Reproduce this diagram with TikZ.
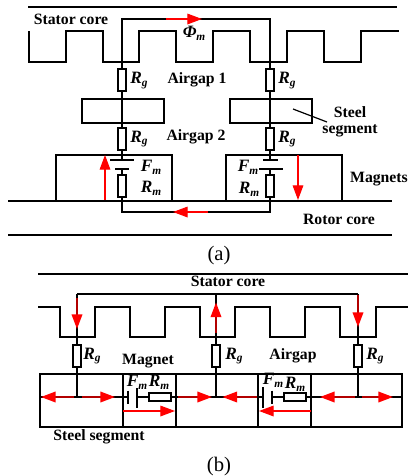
\documentclass[tikz,border=0pt]{standalone}
\usepackage{fontspec}
\setmainfont{Liberation Serif}
\usetikzlibrary{arrows.meta}
\newcommand{\symb}[2]{{\bfseries\itshape #1\raisebox{-2pt}{\fontsize{8.5}{9}\selectfont #2}}}
\tikzset{
 wire/.style={line width=1.15pt,black,line join=miter},
 res/.style={draw=black,line width=1.15pt,fill=white,minimum width=6pt,minimum height=16.5pt,inner sep=0pt,outer sep=0pt},
 resh/.style={draw=black,line width=1.15pt,fill=white,minimum width=16.5pt,minimum height=6pt,inner sep=0pt,outer sep=0pt},
 lab/.style={font=\fontsize{11.8}{13}\selectfont\bfseries,inner sep=0pt},
 sym/.style={font=\fontsize{13}{14}\selectfont,inner sep=0pt},
 captext/.style={font=\fontsize{15.5}{17}\selectfont,inner sep=0pt},
 flux/.style={red,line width=0.9pt,-{Triangle[length=11pt,width=8pt]}},
 fluxdark/.style={red!70!black,line width=1.15pt,-{Triangle[length=11pt,width=8pt,color=red]}},
}
\begin{document}
\begin{tikzpicture}[x=0.75pt,y=-0.75pt]
\useasboundingbox (0,0) rectangle (408,476);
% ---------- (a)
\draw[wire] (28,7) -- (397,7);
\draw[wire] (29,31) -- (29,62) -- (66,62) -- (66,31) -- (103,31) -- (103,62) -- (139,62) -- (139,31) -- (176,31) -- (176,62) -- (213,62) -- (213,31) -- (250,31) -- (250,62) -- (287,62) -- (287,31) -- (324,31) -- (324,62) -- (361,62) -- (361,31) -- (399,31);
\draw[wire] (8,201) -- (392,201);
\draw[wire] (8,235) -- (392,235);
% steel segments, magnets
\draw[wire] (82,99) rectangle (164,123);
\draw[wire] (230,99) rectangle (312,123);
\draw[wire] (56,201) -- (56,155) -- (172,155) -- (172,201);
\draw[wire] (226,201) -- (226,155) -- (342,155) -- (342,201);
% circuit
\coordinate (tl) at (122,19);
\coordinate (tr) at (270,19);
\coordinate (bl) at (122,212);
\coordinate (br) at (270,212);
\node[res] (rg1) at (122,80) {};
\node[res] (rg2) at (270,80) {};
\node[res] (rg3) at (122,139) {};
\node[res] (rg4) at (270,139) {};
\node[res] (rm1) at (122,186) {};
\node[res] (rm2) at (270,186) {};
\coordinate (pl1) at (122,160);
\coordinate (pl2) at (122,169);
\coordinate (pr1) at (270,160);
\coordinate (pr2) at (270,169);
\draw[wire] (rg1.north) -- (tl) -- (tr) -- (rg2.north);
\draw[wire] (rg1.south) -- (rg3.north);
\draw[wire] (rg2.south) -- (rg4.north);
\draw[wire] (rg3.south) -- (pl1);
\draw[wire] (rg4.south) -- (pr1);
\draw[wire] (pl2) -- (rm1.north);
\draw[wire] (pr2) -- (rm2.north);
\draw[wire] (rm1.south) -- (bl) -- (br) -- (rm2.south);
\draw[wire] (110,160) -- (134,160);
\draw[wire] (115,169) -- (129,169);
\draw[wire] (263,160) -- (278,160);
\draw[wire] (259,169) -- (283,169);
\draw[line width=0.9pt] (293,109) -- (327,122);
% red arrows
\coordinate (fa1) at (166,19); \coordinate (fa2) at (202,19);
\coordinate (fb1) at (208,212); \coordinate (fb2) at (173,212);
\coordinate (fc1) at (105,200); \coordinate (fc2) at (105,155);
\coordinate (fd1) at (298,155); \coordinate (fd2) at (298,200);
\draw[flux] (fa1) -- (fa2);
\draw[flux] (fb1) -- (fb2);
\draw[flux] (fc1) -- (fc2);
\draw[flux] (fd1) -- (fd2);
% labels
\node[lab] (t1) at (71,19) {Stator core};
\node[sym] (t2) at (194,33) {\symb{Φ}{m}};
\node[sym] (t3) at (139,80.5) {\symb{R}{g}};
\node[lab] (t4) at (197,80) {Airgap 1};
\node[sym] (t5) at (287,80.5) {\symb{R}{g}};
\node[lab] (t6) at (350,112) {Steel};
\node[lab] (t7) at (350,131) {segment};
\node[sym] (t8) at (139,139) {\symb{R}{g}};
\node[lab] (t9) at (196,137) {Airgap 2};
\node[sym] (t10) at (287,139) {\symb{R}{g}};
\node[sym] (t11) at (151,167) {\symb{F}{m}};
\node[sym] (t12) at (151,188) {\symb{R}{m}};
\node[sym] (t13) at (248,167) {\symb{F}{m}};
\node[sym] (t14) at (249,189) {\symb{R}{m}};
\node[lab] (t15) at (379,179) {Magnets};
\node[lab] (t16) at (339,219) {Rotor core};
\node[captext] (t17) at (219,256) {(a)};
% ---------- (b)
\draw[wire] (38,274) -- (408,274);
\draw[wire] (38,307) -- (60,307) -- (60,337) -- (95,337) -- (95,307) -- (130,307) -- (130,337) -- (165,337) -- (165,307) -- (200,307) -- (200,337) -- (235,337) -- (235,307) -- (270,307) -- (270,337) -- (305,337) -- (305,307) -- (340,307) -- (340,337) -- (376,337) -- (376,307) -- (408,307);
\draw[wire] (40,374) rectangle (402,427);
\draw[wire] (123,374) -- (123,427);
\draw[wire] (176,374) -- (176,427);
\draw[wire] (258,374) -- (258,427);
\draw[wire] (311,374) -- (311,427);
\coordinate (ul) at (77,294);
\coordinate (um) at (216,294);
\coordinate (ur) at (358,294);
\node[res] (brg1) at (77,356) {};
\node[res] (brg2) at (216,356) {};
\node[res] (brg3) at (358,356) {};
\coordinate (jl) at (77,397);
\coordinate (jm) at (216,397);
\coordinate (jr) at (358,397);
\coordinate (el) at (40,397);
\coordinate (er) at (402,397);
\node[resh] (brm1) at (160,397) {};
\node[resh] (brm2) at (295,397) {};
\coordinate (c1a) at (128,397);
\coordinate (c1b) at (137,397);
\coordinate (c2a) at (263,397);
\coordinate (c2b) at (272,397);
\draw[wire] (ul) -- (um) -- (ur);
\draw[wire] (ul) -- (brg1.north);
\draw[wire] (um) -- (brg2.north);
\draw[wire] (ur) -- (brg3.north);
\draw[wire] (brg1.south) -- (jl);
\draw[wire] (brg2.south) -- (jm);
\draw[wire] (brg3.south) -- (jr);
\draw[wire] (el) -- (c1a);
\draw[wire] (c1b) -- (brm1.west);
\draw[wire] (brm1.east) -- (c2a);
\draw[wire] (c2b) -- (brm2.west);
\draw[wire] (brm2.east) -- (er);
\draw[wire] (128,390.5) -- (128,404);
\draw[wire] (137,388) -- (137,408);
\draw[wire] (263,387) -- (263,408);
\draw[wire] (272,390.5) -- (272,404);
% red arrows (b)
\coordinate (v1a) at (77,298); \coordinate (v1b) at (77,329);
\coordinate (v2a) at (216,333); \coordinate (v2b) at (216,302.5);
\coordinate (v3a) at (358,295); \coordinate (v3b) at (358,327);
\draw[fluxdark] (v1a) -- (v1b);
\draw[fluxdark] (v2a) -- (v2b);
\draw[fluxdark] (v3a) -- (v3b);
\coordinate (h1) at (74,397); \coordinate (h1t) at (41,397);
\coordinate (h2) at (82,397); \coordinate (h2t) at (115,397);
\coordinate (h3) at (178,397); \coordinate (h3t) at (212,397);
\coordinate (h4) at (257,397); \coordinate (h4t) at (222.5,397);
\coordinate (h5) at (355,397); \coordinate (h5t) at (320,397);
\coordinate (h6) at (362,397); \coordinate (h6t) at (393,397);
\foreach \a/\b in {h1/h1t,h2/h2t,h3/h3t,h4/h4t,h5/h5t,h6/h6t} \draw[fluxdark] (\a) -- (\b);
\coordinate (m1a) at (123,411); \coordinate (m1b) at (175,411);
\coordinate (m2a) at (311,411); \coordinate (m2b) at (259,411);
\draw[flux] (m1a) -- (m1b);
\draw[flux] (m2a) -- (m2b);
% labels (b)
\node[lab] (b1) at (228,281) {Stator core};
\node[sym] (b2) at (92,356) {\symb{R}{g}};
\node[lab] (b3) at (148,361) {Magnet};
\node[sym] (b4) at (234,356) {\symb{R}{g}};
\node[lab] (b5) at (293,356) {Airgap};
\node[sym] (b6) at (375,356) {\symb{R}{g}};
\node[sym] (b7) at (137,382) {\symb{F}{m}};
\node[sym] (b8) at (159,382) {\symb{R}{m}};
\node[sym] (b9) at (273,380) {\symb{F}{m}};
\node[sym] (b10) at (295,384) {\symb{R}{m}};
\node[lab] (b11) at (99,437) {Steel segment};
\node[captext] (b12) at (219,467) {(b)};
\end{tikzpicture}
\end{document}
